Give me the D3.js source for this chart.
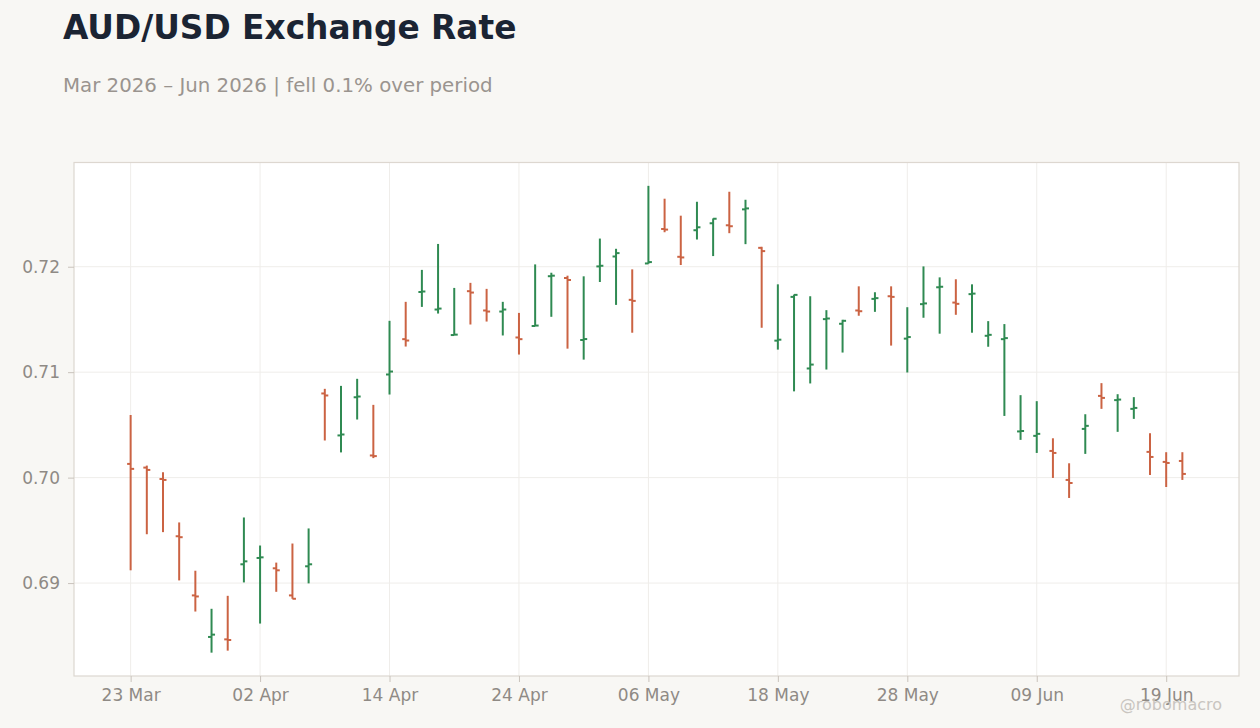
<!DOCTYPE html>
<html>
<head>
<meta charset="utf-8">
<script src="https://cdn.jsdelivr.net/npm/d3@7"></script>
<style>
    body { margin: 0; background: #f8f7f4; }
    svg { display: block; font-family: "DejaVu Sans", sans-serif; }
    .grid line { stroke: #efedea; stroke-width: 1; }
    .axis path { display: none; }
    .axis line { stroke: #c9c3bc; }
    .axis text { fill: #8f8a85; font-size: 17px; font-family: "DejaVu Sans", sans-serif; }
</style>
</head>
<body>
<svg id="ohlcChart" width="1260" height="728"></svg>
<script>
const dates = [
    '2026-03-23', '2026-03-24', '2026-03-25', '2026-03-26', '2026-03-27',
    '2026-03-30', '2026-03-31', '2026-04-01', '2026-04-02', '2026-04-03',
    '2026-04-06', '2026-04-07', '2026-04-08', '2026-04-09', '2026-04-10',
    '2026-04-13', '2026-04-14', '2026-04-15', '2026-04-16', '2026-04-17',
    '2026-04-20', '2026-04-21', '2026-04-22', '2026-04-23', '2026-04-24',
    '2026-04-27', '2026-04-28', '2026-04-29', '2026-04-30', '2026-05-01',
    '2026-05-04', '2026-05-05', '2026-05-06', '2026-05-07', '2026-05-08',
    '2026-05-11', '2026-05-12', '2026-05-13', '2026-05-14', '2026-05-15',
    '2026-05-18', '2026-05-19', '2026-05-20', '2026-05-21', '2026-05-22',
    '2026-05-25', '2026-05-26', '2026-05-27', '2026-05-28', '2026-05-29',
    '2026-06-01', '2026-06-02', '2026-06-03', '2026-06-04', '2026-06-05',
    '2026-06-08', '2026-06-09', '2026-06-10', '2026-06-11', '2026-06-12',
    '2026-06-15', '2026-06-16', '2026-06-17', '2026-06-18', '2026-06-19',
    '2026-06-22'
];

const openValues = [
    .70130, .70095, .69987, .69444, .68883, .68489, .68466, .69178, .69238, .69140,
    .68883, .69159, .70798, .70400, .70762, .70210, .70978, .71313, .71760, .71594,
    .71352, .71768, .71585, .71575, .71329, .71438, .71910, .71893, .71305, .72003,
    .72097, .71686, .72031, .72358, .72094, .72346, .72412, .72393, .72544, .72179,
    .71299, .71714, .71035, .71503, .71459, .71585, .71695, .71720, .71318, .71645,
    .71805, .71660, .71740, .71345, .71313, .70438, .70396, .70253, .69978, .70462,
    .70775, .70735, .70652, .70244, .70149, .70158
];

const highValues = [
    .70594, .70114, .70051, .69575, .69117, .68756, .68879, .69622, .69356, .69194,
    .69375, .69518, .70842, .70870, .70937, .70690, .71487, .71667, .71970, .72216,
    .71799, .71847, .71790, .71667, .71562, .72022, .71943, .71915, .71909, .72267,
    .72170, .71975, .72767, .72645, .72484, .72616, .72458, .72711, .72635, .72189,
    .71833, .71736, .71720, .71588, .71497, .71814, .71758, .71814, .71616, .72003,
    .71899, .71881, .71833, .71484, .71456, .70782, .70725, .70373, .70136, .70601,
    .70896, .70791, .70763, .70421, .70241, .70241
];

const lowValues = [
    .69121, .69463, .69483, .69025, .68730, .68340, .68359, .69006, .68616, .68917,
    .68851, .68997, .70352, .70239, .70551, .70185, .70788, .71243, .71619, .71556,
    .71350, .71452, .71480, .71348, .71167, .71436, .71525, .71223, .71119, .71855,
    .71638, .71374, .72028, .72327, .72016, .72258, .72101, .72318, .72214, .71421,
    .71214, .70818, .70893, .71025, .71186, .71535, .71572, .71252, .70997, .71516,
    .71365, .71544, .71374, .71241, .70585, .70358, .70234, .69997, .69807, .70225,
    .70652, .70434, .70557, .70025, .69911, .69978
];

const closeValues = [
    .70083, .70073, .69978, .69435, .68873, .68511, .68460, .69206, .69244, .69121,
    .68851, .69178, .70779, .70409, .70769, .70204, .71006, .71300, .71765, .71603,
    .71356, .71755, .71575, .71594, .71313, .71442, .71915, .71874, .71314, .72009,
    .72129, .71676, .72044, .72352, .72088, .72374, .72455, .72384, .72553, .72148,
    .71308, .71733, .71072, .71509, .71487, .71578, .71702, .71714, .71333, .71652,
    .71810, .71648, .71745, .71354, .71323, .70442, .70415, .70234, .69949, .70491,
    .70756, .70740, .70661, .70196, .70139, .70035
];

const yTicks = [0.69, 0.70, 0.71, 0.72];
const xTickEvery = 8;

const titleText = 'AUD/USD Exchange Rate';
const subtitleText = 'Mar 2026 \u2013 Jun 2026 | fell 0.1% over period';
const watermarkText = '@robomacro';

const upColor = '#2f8a52';
const downColor = '#cb6343';
const tickLen = 3.5;

const plot = {left: 74, top: 162.5, right: 1239, bottom: 676};

const parseDate = d3.timeParse('%Y-%m-%d');
const formatDate = d3.timeFormat('%d %b');

const bars = dates.map((d, i) => ({
    date: d,
    open: openValues[i],
    high: highValues[i],
    low: lowValues[i],
    close: closeValues[i]
}));

function render () {
    const svg = d3.select('#ohlcChart');

    const x = d3.scalePoint()
        .domain(dates)
        .range([plot.left, plot.right])
        .padding(3.5);

    const minLow = d3.min(lowValues);
    const maxHigh = d3.max(highValues);
    const pad = (maxHigh - minLow) * 0.05;
    const y = d3.scaleLinear()
        .domain([minLow - pad, maxHigh + pad])
        .range([plot.bottom, plot.top]);

    // TITLES

    svg.append('text')
        .attr('x', 63)
        .attr('y', 38.5)
        .attr('fill', '#1b2433')
        .attr('font-size', 32.8)
        .attr('font-weight', 'bold')
        .text(titleText);

    svg.append('text')
        .attr('x', 63)
        .attr('y', 91.5)
        .attr('fill', '#9a948f')
        .attr('font-size', 19.8)
        .text(subtitleText);

    // PLOT AREA

    svg.append('rect')
        .attr('x', plot.left)
        .attr('y', plot.top)
        .attr('width', plot.right - plot.left)
        .attr('height', plot.bottom - plot.top)
        .attr('fill', '#ffffff');

    const xTickDates = dates.filter((d, i) => i % xTickEvery === 0);

    const grid = svg.append('g').attr('class', 'grid');
    grid.selectAll('.vGrid')
        .data(xTickDates)
        .enter()
        .append('line')
        .attr('class', 'vGrid')
        .attr('x1', d => x(d))
        .attr('x2', d => x(d))
        .attr('y1', plot.top)
        .attr('y2', plot.bottom);
    grid.selectAll('.hGrid')
        .data(yTicks)
        .enter()
        .append('line')
        .attr('class', 'hGrid')
        .attr('x1', plot.left)
        .attr('x2', plot.right)
        .attr('y1', d => y(d))
        .attr('y2', d => y(d));

    svg.append('rect')
        .attr('x', plot.left)
        .attr('y', plot.top)
        .attr('width', plot.right - plot.left)
        .attr('height', plot.bottom - plot.top)
        .attr('fill', 'none')
        .attr('stroke', '#ddd7d0')
        .attr('stroke-width', 1.2);

    // AXES

    svg.append('g')
        .attr('class', 'axis xAxis')
        .attr('transform', `translate(0,${plot.bottom})`)
        .call(d3.axisBottom(x)
            .tickValues(xTickDates)
            .tickFormat(d => formatDate(parseDate(d)))
            .tickSize(6)
            .tickPadding(7));

    svg.append('g')
        .attr('class', 'axis yAxis')
        .attr('transform', `translate(${plot.left},0)`)
        .call(d3.axisLeft(y)
            .tickValues(yTicks)
            .tickFormat(d3.format('.2f'))
            .tickSize(6)
            .tickPadding(8));

    // OHLC BARS

    const barGroups = svg.append('g')
        .selectAll('.ohlc')
        .data(bars)
        .enter()
        .append('g')
        .attr('class', 'ohlc')
        .attr('stroke', d => d.close >= d.open ? upColor : downColor)
        .attr('stroke-width', 2);

    barGroups.append('line')
        .attr('x1', d => x(d.date))
        .attr('x2', d => x(d.date))
        .attr('y1', d => y(d.high))
        .attr('y2', d => y(d.low));

    barGroups.append('line')
        .attr('x1', d => x(d.date) - tickLen)
        .attr('x2', d => x(d.date))
        .attr('y1', d => y(d.open))
        .attr('y2', d => y(d.open));

    barGroups.append('line')
        .attr('x1', d => x(d.date))
        .attr('x2', d => x(d.date) + tickLen)
        .attr('y1', d => y(d.close))
        .attr('y2', d => y(d.close));

    // WATERMARK

    svg.append('text')
        .attr('x', 1222)
        .attr('y', 710)
        .attr('text-anchor', 'end')
        .attr('fill', '#c9c5c0')
        .attr('font-size', 16)
        .text(watermarkText);
}

render();
</script>
</body>
</html>
